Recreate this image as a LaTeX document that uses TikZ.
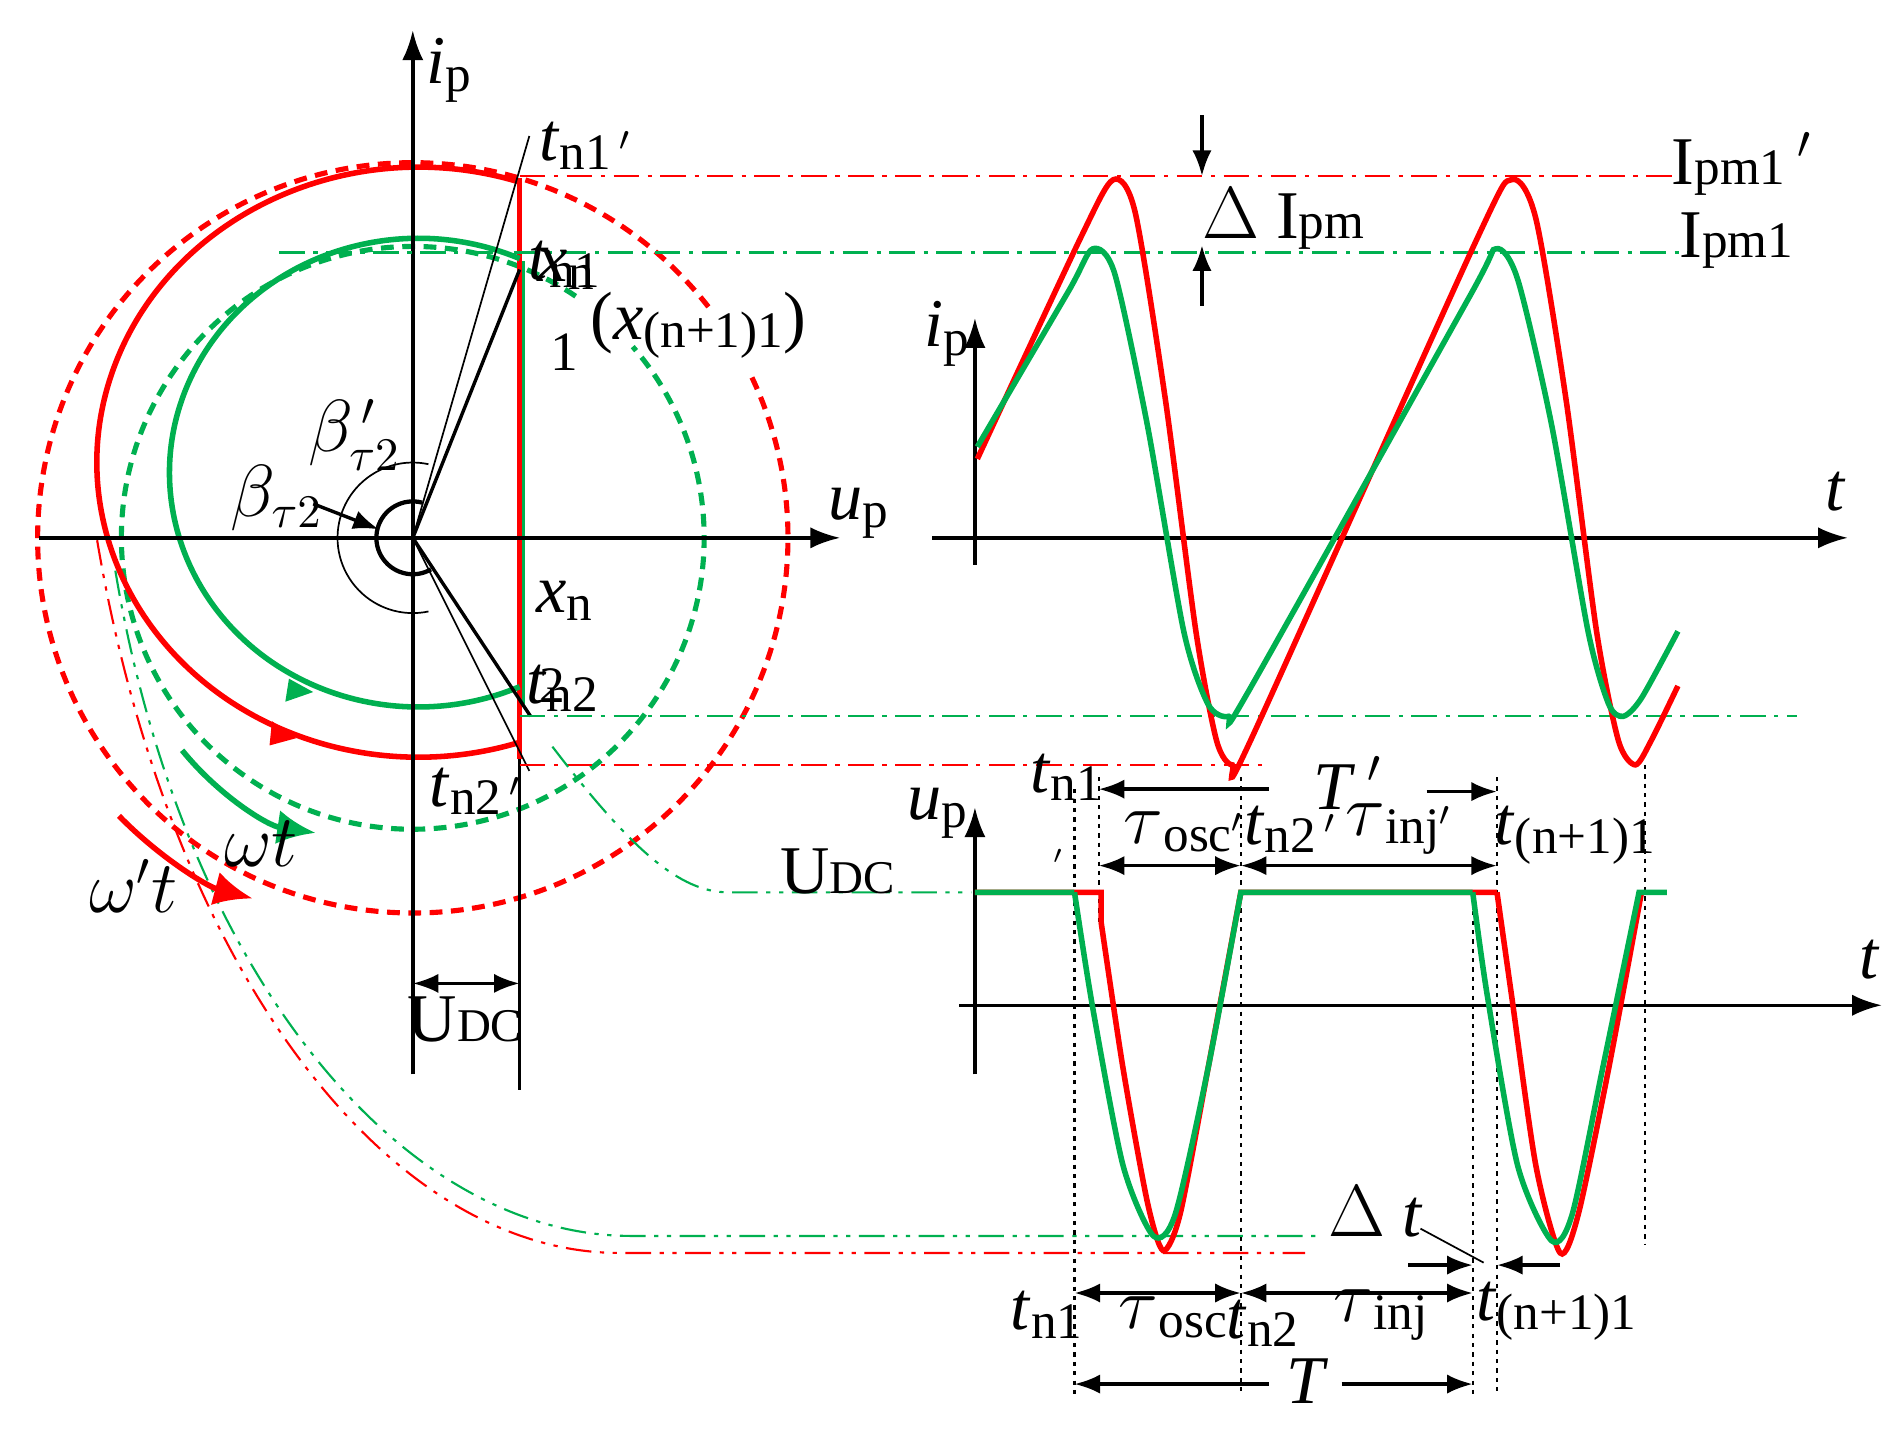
\documentclass[tikz,border=0pt]{standalone}
\usepackage{fontspec}
\setmainfont{Liberation Serif}
\usetikzlibrary{arrows.meta}
\definecolor{rd}{RGB}{255,0,0}
\definecolor{gn}{RGB}{0,176,80}
\newcommand\lbl[2]{\textit{#1}{\fontsize{12}{12}\selectfont\raisebox{-0.35ex}{#2}}}
\begin{document}
\begin{tikzpicture}[x=0.1mm,y=-0.1mm,
 ax/.style={line width=0.8pt,-{Latex[length=7pt,width=5pt]}},
 ln/.style={line width=0.8pt},
 thn/.style={line width=0.4pt},
 rs/.style={rd,line width=1.3pt},
 gs/.style={gn,line width=1.3pt},
 rdash/.style={rd,line width=1.2pt,dash pattern=on 3pt off 2pt},
 gdash/.style={gn,line width=1.2pt,dash pattern=on 3pt off 2pt},
 dd/.style={line width=0.5pt,dash pattern=on 6pt off 2pt on 1pt off 2pt},
 ddd/.style={line width=0.5pt,dash pattern=on 6pt off 2pt on 1pt off 2pt on 1pt off 2pt},
 dot/.style={line width=0.5pt,dash pattern=on 1pt off 1.2pt},
 dar/.style={line width=0.8pt,{Latex[length=6pt,width=4.5pt]}-{Latex[length=6pt,width=4.5pt]}},
 ar/.style={line width=0.8pt,-{Latex[length=6pt,width=4.5pt]}},
 tx/.style={font=\fontsize{16}{18}\selectfont,inner sep=0pt}]
\useasboundingbox (0,0) rectangle (1560,1178);
% origin
\coordinate (O) at (340,443);
% circles
\draw[rdash] (O) ++(-38:309) arc[start angle=-38,end angle=-386,radius=309];
\draw[gdash] (O) ++(-56:240) arc[start angle=-56,end angle=-401,radius=240];
\draw[rs] (428,150) arc[start angle=-71.7,end angle=-288.3,x radius=265,y radius=243];
\draw[rs] (428,147) -- (428,625);
\draw[gs] (428,213) arc[start angle=-66,end angle=-294,x radius=205,y radius=193];
\draw[gn,line width=0.6pt] (431,215) -- (431,580);
\fill[rd] (244,608) -- ++(-20,-14) -- ++(-2,20) -- cycle;
\fill[gn] (258,570) -- ++(-20,-11) -- ++(-3,19) -- cycle;
% axes
\draw[ax] (340,885) -- (340,25) coordinate (ipt);
\draw[ax] (32,443) -- (692,443) coordinate (upt);
\draw[ln] (428,625) -- (428,898);
\draw[ln] (O) -- (428,222);
\draw[thn] (O) -- (436,112);
\draw[ln] (O) -- (437,590);
\draw[thn] (O) -- (436,635);
\draw[line width=1pt] (O) ++(-75:30) arc[start angle=-75,end angle=-300,radius=30];
\draw[thn] (O) ++(-78:62) arc[start angle=-78,end angle=-282,radius=62];
\draw[ar] (258,415) -- (312,436);
% horizontal dash-dot
\draw[dd,rd] (428,145) -- (1380,145);
\draw[dd,gn] (230,208) -- (1390,208);
\draw[dd,gn] (428,590) -- (1480,590);
\draw[dd,rd] (428,630) -- (1045,630);
% delta Ipm
\draw[ar] (990,95) -- (990,145);
\draw[ar] (990,252) -- (990,202);
% curves to bottom
\draw[ddd,rd] (80,445) .. controls (140,800) and (320,1032) .. (510,1032) -- (1075,1032);
\draw[ddd,gn] (95,470) .. controls (150,800) and (330,1018) .. (520,1018) -- (1085,1018);
\draw[ddd,gn] (455,615) .. controls (520,700) and (560,735) .. (600,735) -- (800,735);
% omega arrows
\draw[gs,-{Latex[length=9pt,width=8pt]}] (150,618) .. controls (180,655) and (220,680) .. (260,686);
\draw[rs,-{Latex[length=9pt,width=8pt]}] (98,672) .. controls (130,705) and (170,730) .. (208,740);
% UDC arrow
\draw[dar] (340,810) -- (428,810);
% top right plot
\draw[ax] (803,465) -- (803,262);
\draw[ax] (768,443) -- (1522,443);
\draw[rs] plot[smooth,tension=0.45] coordinates{(805,378)(890,196)(917,148)(935,175)(960,330)(985,520)(1002,610)(1015,630)(1030,610)(1215,200)(1245,148)(1265,180)(1290,330)(1315,520)(1333,610)(1347,630)(1360,610)(1382,565)};
\draw[gs] plot[smooth,tension=0.45] coordinates{(805,368)(880,240)(900,205)(918,225)(945,350)(975,520)(995,580)(1012,590)(1028,570)(1210,245)(1232,205)(1250,230)(1278,350)(1308,520)(1325,580)(1337,590)(1352,575)(1382,520)};
% bottom plot
\draw[ax] (803,885) -- (803,665);
\draw[ax] (790,828) -- (1550,828);
\foreach \x/\a/\b in {885/650/1150,905/640/760,1022/640/1150,1213/735/1150,1233/640/1150,1355/630/1025}
  \draw[dot] (\x,\a) -- (\x,\b);
\draw[rs] (803,735) -- (907,735) -- (907,760) plot[smooth,tension=0.45] coordinates{(907,760)(925,880)(945,990)(958,1030)(972,1000)(995,880)(1022,735)} -- (1233,735) plot[smooth,tension=0.45] coordinates{(1233,735)(1245,820)(1265,960)(1285,1032)(1300,1000)(1325,880)(1352,735)};
\draw[gs] (803,735) -- (885,735) plot[smooth,tension=0.45] coordinates{(885,735)(900,830)(925,960)(950,1018)(968,1000)(995,880)(1022,735)} -- (1213,735) plot[smooth,tension=0.45] coordinates{(1213,735)(1225,820)(1250,960)(1278,1022)(1295,1000)(1320,880)(1350,735)} -- (1373,735);
% time arrows
\draw[ar] (1045,650) -- (905,650);
\draw[ar] (1175,652) -- (1233,652);
\draw[dar] (905,713) -- (1022,713);
\draw[dar] (1022,713) -- (1233,713);
\draw[dar] (885,1065) -- (1022,1065);
\draw[dar] (1022,1065) -- (1213,1065);
\draw[ar] (1045,1140) -- (885,1140);
\draw[ar] (1105,1140) -- (1213,1140);
\draw[ar] (1160,1042) -- (1213,1042);
\draw[ar] (1285,1042) -- (1233,1042);
\draw[thn] (1170,1012) -- (1222,1040);
% labels
\begin{scope}[every node/.style={tx}]
\node (l1) at (370,58) {\lbl{i}{p}};
\node (l2) at (707,423) {\lbl{u}{p}};
\node (l3) at (482,120) {\lbl{t}{n1\,$'$}};
\node (l4) at (465,218) {\lbl{t}{n1}};
\node (l4b) at (466,222) {\lbl{x}{n}};
\node (l5) at (465,290) {\fontsize{13}{13}\selectfont 1};
\node (l6) at (575,268) {(\lbl{x}{(n+1)1})};
\node (l7) at (465,495) {\lbl{x}{n}};
\node (l8) at (463,567) {\lbl{t}{n2}};
\node (l8b) at (455,565) {\fontsize{12}{12}\selectfont 2};
\node (l9) at (392,652) {\lbl{t}{n2\,$'$}};
\node (l10) at (292,358) {$\beta_{\tau2}^{\,\prime}$};
\node (l11) at (228,410) {$\beta_{\tau2}$};
\node (l12) at (383,840) {U{\fontsize{11}{11}\selectfont DC}};
\node (l13) at (215,695) {$\omega t$};
\node (l14) at (110,730) {$\omega' t$};
\node (l15) at (690,718) {U{\fontsize{11}{11}\selectfont DC}};
\node (l16) at (1435,135) {I{\fontsize{12}{12}\selectfont pm1}$\,'$};
\node (l17) at (1430,198) {I{\fontsize{12}{12}\selectfont pm1}};
\node (l18) at (1057,180) {$\Delta$ I{\fontsize{12}{12}\selectfont pm}};
\node (l19) at (780,275) {\lbl{i}{p}};
\node (l20) at (1512,405) {\textit{t}};
\node (l21) at (772,670) {\lbl{u}{p}};
\node (l22) at (1540,790) {\textit{t}};
\node (l23) at (878,640) {\lbl{t}{n1}};
\node (l24) at (872,712) {\fontsize{9}{9}\selectfont$'$};
\node (l25) at (1110,645) {\textit{T}$\,'$};
\node (l26) at (975,685) {\lbl{$\tau$}{osc$'$}};
\node (l27) at (1063,683) {\lbl{t}{n2\,$'$}};
\node (l28) at (1152,683) {\lbl{$\tau$}{inj$'$}};
\node (l29) at (1297,688) {\lbl{t}{(n+1)1}};
\node (l30) at (862,1083) {\lbl{t}{n1}};
\node (l31) at (966,1085) {\lbl{$\tau$}{osc}};
\node (l32) at (1040,1090) {\lbl{t}{n2}};
\node (l33) at (1137,1083) {\lbl{$\tau$}{inj}};
\node (l34) at (1282,1080) {\lbl{t}{(n+1)1}};
\node (l35) at (1077,1138) {\textit{T}};
\node (l36) at (1133,998) {$\Delta$ \textit{t}};
\end{scope}
\end{tikzpicture}
\end{document}
